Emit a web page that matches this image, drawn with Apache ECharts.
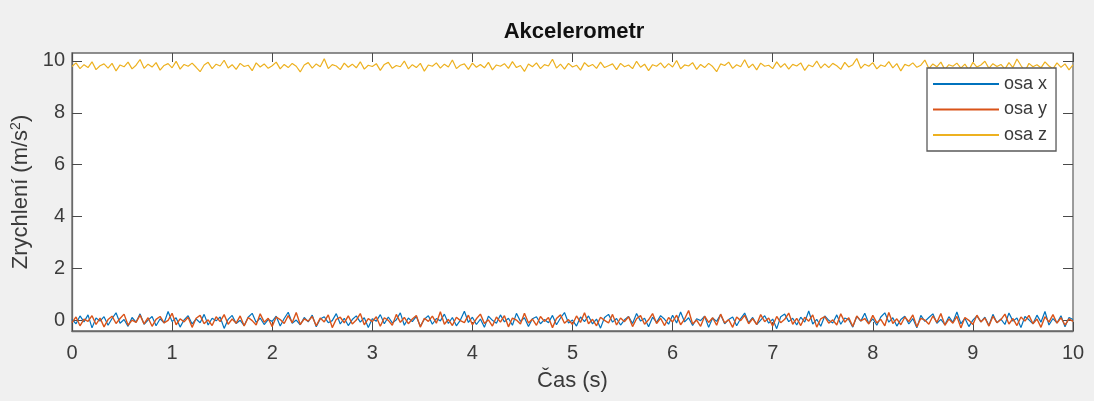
<!DOCTYPE html>
<html>
<head>
<meta charset="utf-8">
<script src="https://cdn.jsdelivr.net/npm/echarts@6/dist/echarts.min.js"></script>
<style>
  html, body { margin: 0; padding: 0; background: #f0f0f0; }
  #chart { width: 1094px; height: 401px; }
</style>
</head>
<body>
<div id="chart"></div>
<script>
// Sampling step of the accelerometer log (seconds)
const timeStep = 0.04;

const xTicks = [0, 1, 2, 3, 4, 5, 6, 7, 8, 9, 10];
const yTicks = [0, 2, 4, 6, 8, 10];

const seriesNames = ['osa x', 'osa y', 'osa z'];

// Acceleration along each axis (m/s^2)
const accX = [
  0.05, -0.12, 0.18, -0.05, 0.22, -0.28, 0.10, -0.02, 0.15, -0.18,
  0.08, 0.30, -0.10, 0.04, -0.22, 0.12, -0.06, 0.26, -0.14, 0.02,
  0.16, -0.20, 0.07, -0.09, 0.35, -0.04, 0.11, -0.25, 0.03, 0.19,
  -0.13, 0.06, -0.08, 0.24, -0.17, 0.09, -0.01, 0.14, -0.30, 0.05,
  0.20, -0.11, 0.01, -0.19, 0.13, 0.28, -0.07, 0.10, -0.15, 0.04,
  -0.03, 0.17, -0.21, 0.08, 0.32, -0.10, 0.02, -0.16, 0.12, -0.05,
  0.21, -0.24, 0.06, 0.15, -0.08, 0.00, 0.27, -0.13, 0.09, -0.19,
  0.04, 0.18, -0.06, 0.11, -0.27, 0.07, -0.02, 0.23, -0.12, 0.14,
  -0.09, 0.03, 0.30, -0.18, 0.10, -0.04, 0.16, -0.22, 0.05, 0.19,
  -0.14, 0.08, -0.01, 0.25, -0.11, 0.12, -0.20, 0.02, 0.36, -0.07,
  0.13, -0.15, 0.06, -0.26, 0.17, 0.01, -0.10, 0.22, -0.05, 0.09,
  -0.18, 0.28, -0.03, 0.11, -0.23, 0.07, 0.15, -0.12, 0.04, -0.08,
  0.20, -0.16, 0.10, 0.31, -0.09, 0.02, -0.21, 0.14, -0.04, 0.18,
  -0.13, 0.06, -0.29, 0.12, 0.24, -0.06, 0.08, -0.17, 0.03, 0.16,
  -0.11, 0.27, -0.02, 0.09, -0.24, 0.13, -0.07, 0.19, 0.05, -0.14,
  0.21, -0.09, 0.33, -0.05, 0.11, -0.19, 0.07, 0.00, 0.17, -0.26,
  0.10, -0.03, 0.23, -0.12, 0.04, 0.14, -0.20, 0.08, 0.29, -0.08,
  0.12, -0.15, 0.02, 0.19, -0.10, 0.06, -0.31, 0.15, 0.25, -0.04,
  0.09, -0.17, 0.13, -0.06, 0.37, -0.13, 0.05, -0.22, 0.18, 0.01,
  -0.09, 0.22, -0.14, 0.10, 0.03, -0.25, 0.16, -0.02, 0.28, -0.11,
  0.07, -0.18, 0.14, 0.30, -0.06, 0.11, -0.21, 0.04, 0.17, -0.13,
  0.08, -0.28, 0.20, -0.03, 0.12, 0.26, -0.10, 0.05, -0.16, 0.15,
  -0.07, 0.33, -0.12, 0.09, -0.23, 0.02, 0.18, -0.05, 0.13, -0.19,
  0.24, -0.08, 0.06, -0.15, 0.29, -0.02, 0.10, -0.27, 0.16, 0.03,
  -0.12, 0.21, -0.06, 0.35, -0.17, 0.08, -0.09, 0.19, -0.24, 0.12,
  0.04
];

const accY = [
  -0.08, 0.14, -0.20, 0.06, -0.03, 0.19, -0.15, 0.10, -0.24, 0.04,
  0.17, -0.11, 0.08, 0.25, -0.18, 0.02, -0.07, 0.21, -0.13, 0.11,
  -0.22, 0.05, 0.16, -0.09, 0.01, 0.28, -0.16, 0.07, -0.05, 0.13,
  -0.26, 0.09, 0.20, -0.12, 0.03, -0.19, 0.15, -0.04, 0.23, -0.14,
  0.06, -0.10, 0.18, -0.21, 0.12, 0.00, -0.17, 0.26, -0.06, 0.09,
  -0.23, 0.14, 0.04, -0.11, 0.19, -0.08, 0.31, -0.15, 0.07, -0.02,
  0.16, -0.20, 0.10, -0.05, 0.22, -0.27, 0.05, 0.13, -0.09, 0.18,
  -0.13, 0.02, 0.27, -0.16, 0.08, -0.04, 0.15, -0.22, 0.11, 0.01,
  -0.18, 0.24, -0.07, 0.12, -0.12, 0.06, 0.20, -0.25, 0.09, -0.03,
  0.17, -0.10, 0.34, -0.14, 0.05, -0.19, 0.13, 0.00, -0.08, 0.21,
  -0.16, 0.07, 0.25, -0.11, 0.03, -0.21, 0.14, -0.06, 0.19, -0.24,
  0.10, 0.02, -0.13, 0.28, -0.09, 0.06, -0.18, 0.16, -0.03, 0.12,
  -0.27, 0.08, 0.22, -0.10, 0.04, -0.15, 0.18, -0.07, 0.30, -0.12,
  0.05, -0.20, 0.13, 0.01, -0.09, 0.24, -0.17, 0.10, -0.04, 0.15,
  -0.23, 0.07, 0.19, -0.14, 0.03, 0.27, -0.11, 0.09, -0.19, 0.12,
  -0.05, 0.21, -0.16, 0.06, 0.39, -0.13, 0.02, -0.22, 0.17, -0.07,
  0.11, -0.18, 0.25, -0.09, 0.04, -0.26, 0.14, 0.00, 0.20, -0.12,
  0.08, -0.15, 0.23, -0.04, 0.10, -0.21, 0.16, -0.08, 0.05, 0.29,
  -0.14, 0.09, -0.19, 0.13, -0.02, 0.22, -0.25, 0.07, 0.15, -0.10,
  0.03, -0.17, 0.26, -0.06, 0.11, -0.23, 0.18, -0.01, 0.08, -0.13,
  0.20, -0.09, 0.05, -0.20, 0.31, -0.11, 0.07, -0.16, 0.14, -0.04,
  0.22, -0.24, 0.09, 0.02, -0.14, 0.18, -0.07, 0.27, -0.18, 0.06,
  -0.10, 0.16, -0.28, 0.12, 0.01, -0.15, 0.21, -0.05, 0.10, -0.21,
  0.17, -0.08, 0.04, 0.25, -0.13, 0.08, -0.19, 0.14, -0.02, 0.20,
  -0.12, 0.06, -0.26, 0.15, -0.06, 0.23, -0.10, 0.11, -0.17, 0.07,
  -0.03
];

const accZ = [
  9.78, 9.92, 9.70, 9.85, 9.74, 9.96, 9.66, 9.81, 9.88, 9.72,
  9.90, 9.61, 9.84, 9.77, 9.95, 9.69, 9.83, 10.05, 9.71, 9.87,
  9.76, 9.93, 9.64, 9.82, 9.89, 9.73, 9.98, 9.68, 9.86, 9.79,
  9.91, 9.75, 9.58, 9.84, 9.94, 9.70, 9.87, 9.80, 10.02, 9.72,
  9.85, 9.67, 9.90, 9.78, 9.83, 9.62, 9.92, 9.76, 9.88, 9.71,
  9.81, 9.95, 9.69, 9.86, 9.74, 9.90, 9.79, 9.57, 9.84, 9.93,
  9.72, 9.88, 9.77, 10.08, 9.70, 9.85, 9.80, 9.66, 9.91, 9.75,
  9.87, 9.73, 9.96, 9.68, 9.83, 9.78, 9.89, 9.63, 9.86, 9.94,
  9.71, 9.82, 9.77, 9.99, 9.69, 9.85, 9.74, 9.90, 9.60, 9.84,
  9.79, 9.92, 9.72, 9.87, 9.76, 10.03, 9.70, 9.83, 9.88, 9.67,
  9.91, 9.75, 9.86, 9.73, 9.94, 9.65, 9.84, 9.79, 9.89, 9.71,
  9.97, 9.74, 9.82, 9.59, 9.88, 9.77, 9.92, 9.70, 9.85, 9.80,
  10.06, 9.72, 9.87, 9.68, 9.90, 9.76, 9.83, 9.64, 9.93, 9.78,
  9.86, 9.71, 9.95, 9.74, 9.81, 9.88, 9.66, 9.90, 9.77, 9.84,
  9.70, 9.98, 9.75, 9.87, 9.62, 9.85, 9.79, 9.92, 9.73, 9.89,
  9.76, 10.01, 9.69, 9.84, 9.80, 9.93, 9.67, 9.86, 9.74, 9.90,
  9.78, 9.58, 9.88, 9.82, 9.95, 9.71, 9.85, 9.77, 10.04, 9.73,
  9.87, 9.65, 9.91, 9.79, 9.83, 9.70, 9.96, 9.75, 9.89, 9.68,
  9.86, 9.80, 9.92, 9.63, 9.84, 9.77, 9.99, 9.72, 9.88, 9.74,
  9.90, 9.81, 9.67, 9.94, 9.76, 9.85, 10.09, 9.71, 9.87, 9.79,
  9.93, 9.69, 9.84, 9.78, 9.97, 9.73, 9.89, 9.61, 9.86, 9.80,
  9.92, 9.75, 9.83, 10.03, 9.70, 9.88, 9.77, 9.95, 9.66, 9.85,
  9.79, 9.91, 9.72, 9.87, 9.64, 9.94, 9.76, 9.84, 9.98, 9.71,
  9.89, 9.78, 9.86, 9.68, 9.93, 9.74, 10.07, 9.82, 9.60, 9.90,
  9.77, 9.85, 9.73, 9.96, 9.80, 9.69, 9.92, 9.75, 9.88, 9.65,
  9.84
];

const colors = ['#0072BD', '#D95319', '#EDB120'];

// Pair every sample with its timestamp
function withTime(values) {
  return values.map((v, i) => [+(i * timeStep).toFixed(2), v]);
}

const axisColor = '#6a6a6a';
const tickColor = '#4a4a4a';
const labelColor = '#3c3c3c';
const fontFamily = '"Liberation Sans", Arial, Helvetica, sans-serif';

const chart = echarts.init(document.getElementById('chart'), null, { renderer: 'canvas' });

// Shared tick styling for the boxed axes
function ticks(len, values) {
  return { show: true, inside: true, length: len, lineStyle: { color: tickColor, width: 1 }, customValues: values };
}

chart.setOption({
  animation: false,
  backgroundColor: '#f0f0f0',
  textStyle: { fontFamily: fontFamily },
  title: {
    text: 'Akcelerometr',
    left: 574,
    textAlign: 'center',
    top: 21,
    padding: 0,
    textStyle: { fontSize: 22, fontWeight: 'bold', color: '#111', fontFamily: fontFamily }
  },
  grid: {
    left: 72, right: 21, top: 53, bottom: 70,
    show: true,
    backgroundColor: '#ffffff',
    borderColor: axisColor,
    borderWidth: 1.3,
    containLabel: false
  },
  legend: {
    orient: 'vertical',
    left: 927,
    top: 68,
    padding: [7, 9, 7, 6],
    itemGap: 7.5,
    itemWidth: 66,
    itemHeight: 2,
    icon: 'rect',
    backgroundColor: '#ffffff',
    borderColor: '#5a5a5a',
    borderWidth: 1.3,
    borderRadius: 0,
    textStyle: { fontSize: 18, color: '#3a3a3a', fontFamily: fontFamily, lineHeight: 18 },
    data: seriesNames
  },
  xAxis: [
    {
      type: 'value',
      min: 0, max: 10, interval: 1,
      name: 'Čas (s)',
      nameLocation: 'middle',
      nameGap: 39,
      nameTextStyle: { fontSize: 22, color: '#3a3a3a' },
      axisLine: { show: true, onZero: false, lineStyle: { color: axisColor, width: 1.3 } },
      axisTick: ticks(9, xTicks),
      axisLabel: { fontSize: 20, color: labelColor, margin: 12, customValues: xTicks },
      splitLine: { show: false }
    },
    {
      type: 'value',
      position: 'top',
      min: 0, max: 10, interval: 1,
      axisLine: { show: false, onZero: false },
      axisTick: ticks(9, xTicks),
      axisLabel: { show: false },
      splitLine: { show: false }
    }
  ],
  yAxis: [
    {
      type: 'value',
      min: -0.4, max: 10.3,
      name: 'Zrychlení (m/s{sup|2})',
      nameLocation: 'middle',
      nameGap: 38,
      nameTextStyle: {
        fontSize: 22, color: '#3a3a3a',
        rich: { sup: { fontSize: 14, color: '#3a3a3a', verticalAlign: 'top', padding: [0, 0, 10, 0] } }
      },
      axisLine: { show: true, onZero: false, lineStyle: { color: axisColor, width: 1.3 } },
      axisTick: ticks(10, yTicks),
      axisLabel: { fontSize: 20, color: labelColor, margin: 7, customValues: yTicks },
      splitLine: { show: false }
    },
    {
      type: 'value',
      position: 'right',
      min: -0.4, max: 10.3,
      axisLine: { show: false, onZero: false },
      axisTick: ticks(10, yTicks),
      axisLabel: { show: false },
      splitLine: { show: false }
    }
  ],
  series: [
    {
      name: seriesNames[0], type: 'line', data: withTime(accX),
      symbol: 'none', color: colors[0],
      lineStyle: { width: 1.2, color: colors[0] }
    },
    {
      name: seriesNames[1], type: 'line', data: withTime(accY),
      symbol: 'none', color: colors[1],
      lineStyle: { width: 1.4, color: colors[1] }
    },
    {
      name: seriesNames[2], type: 'line', data: withTime(accZ),
      symbol: 'none', color: colors[2],
      lineStyle: { width: 1.2, color: colors[2] }
    }
  ]
});
</script>
</body>
</html>
